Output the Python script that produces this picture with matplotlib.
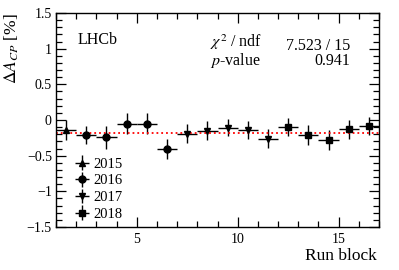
import numpy as np
import matplotlib
matplotlib.use('Agg')
import matplotlib.pyplot as plt
from matplotlib.ticker import MultipleLocator

#fonts close to the ROOT / Times look
plt.rcParams['font.family'] = ['Liberation Serif', 'DejaVu Serif']
plt.rcParams['mathtext.fontset'] = 'stix'
plt.rcParams['axes.unicode_minus'] = True

#data, one value per run block
run_block = [1.5, 2.5, 3.5, 4.5, 5.5, 6.5, 7.5, 8.5,
             9.5, 10.5, 11.5, 12.5, 13.5, 14.5, 15.5, 16.5]
delta_acp = [-0.14, -0.21, -0.24, -0.05, -0.05, -0.41, -0.19, -0.15,
             -0.11, -0.14, -0.26, -0.10, -0.21, -0.28, -0.13, -0.08]
delta_err = [0.14, 0.12, 0.16, 0.145, 0.145, 0.14, 0.135, 0.13,
             0.12, 0.13, 0.13, 0.13, 0.135, 0.135, 0.13, 0.125]
block_year = ['2015', '2016', '2016', '2016', '2016', '2016', '2017', '2017',
              '2017', '2017', '2017', '2018', '2018', '2018', '2018', '2018']
years = ['2015', '2016', '2017', '2018']
year_markers = {'2015': '^', '2016': 'o', '2017': 'v', '2018': 's'}
mean_acp = -0.18
chi2_text = '7.523 / 15'
pvalue_text = '0.941'

fig = plt.figure(figsize=(3.99, 2.70), dpi=100)
ax = fig.add_axes([0.1404, 0.1593, 0.8096, 0.7926])

x = np.array(run_block)
y = np.array(delta_acp)
yerr = np.array(delta_err)
yr = np.array(block_year)

#one errorbar series per data taking year
for year in years:
    sel = yr == year
    ax.errorbar(x[sel], y[sel], xerr=0.5, yerr=yerr[sel],
                fmt=year_markers[year], color='black', markersize=5,
                elinewidth=1.0, capsize=0, label=year)

#fitted constant
ax.plot([1, 17], [mean_acp, mean_acp], color='red', linestyle=':', linewidth=1.3)

ax.set_xlim(1, 17)
ax.set_ylim(-1.5, 1.5)
ax.xaxis.set_major_locator(MultipleLocator(5))
ax.xaxis.set_minor_locator(MultipleLocator(1))
ax.yaxis.set_minor_locator(MultipleLocator(0.1))
ax.set_yticks([-1.5, -1, -0.5, 0, 0.5, 1, 1.5])
ax.set_yticklabels(['\u22121.5', '\u22121', '\u22120.5', '0', '0.5', '1', '1.5'])

ax.tick_params(which='both', direction='in', top=True, right=True,
               labelsize=10, width=0.9)
ax.tick_params(which='major', length=7)
ax.tick_params(which='minor', length=4)
ax.tick_params(axis='x', which='major', pad=4)
ax.tick_params(axis='y', which='major', pad=3)
for sp in ax.spines.values():
    sp.set_linewidth(1.0)

#axis titles in the top / right corners like ROOT
ax.set_xlabel('Run block', fontsize=12.5, loc='right')
ax.xaxis.set_label_coords(0.994, -0.10)
ax.set_ylabel(r'$\Delta A_{CP}$ [%]', fontsize=12.5, loc='top')
ax.yaxis.set_label_coords(-0.108, 1.0)

#annotations
ax.text(0.068, 0.874, 'LHCb', fontsize=11.5, transform=ax.transAxes,
        ha='left', va='center')
#fit quality box: names on the left, values right aligned
ax.text(0.477, 0.757, '$\\chi^2$ / ndf\n$p$-value', fontsize=11.5,
        transform=ax.transAxes, ha='left', va='baseline', linespacing=0.95)
ax.text(0.912, 0.757, chi2_text + '\n' + pvalue_text, fontsize=11.5,
        transform=ax.transAxes, ha='right', va='baseline',
        multialignment='right', linespacing=0.95)

#legend at lower left
ax.legend(loc='upper left', bbox_to_anchor=(0.06, 0.325), frameon=False,
          fontsize=10.5, handlelength=0.9, handletextpad=0.3,
          labelspacing=0.24, borderaxespad=0, borderpad=0)

fig.savefig('out.png', dpi=100)
